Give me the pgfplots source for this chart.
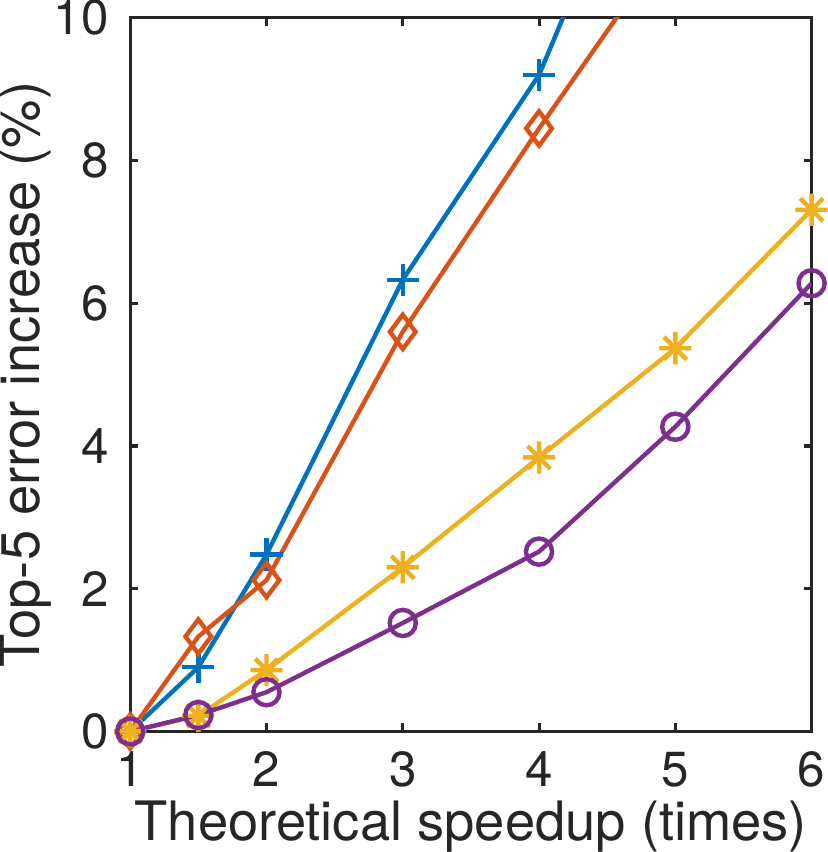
\documentclass[border=0pt]{standalone}
\usepackage{pgfplots}
\pgfplotsset{compat=1.18}
\usepackage{fontspec}
\setmainfont{TeX Gyre Heros}
\definecolor{mblue}{RGB}{0,114,189}
\definecolor{morange}{RGB}{217,83,25}
\definecolor{myellow}{RGB}{237,177,32}
\definecolor{mpurple}{RGB}{126,47,142}
\definecolor{axgray}{RGB}{38,38,38}
\pgfdeclareplotmark{mstar}{%
 \pgfpathmoveto{\pgfqpoint{-\pgfplotmarksize}{0pt}}\pgfpathlineto{\pgfqpoint{\pgfplotmarksize}{0pt}}%
 \pgfpathmoveto{\pgfqpoint{0pt}{-\pgfplotmarksize}}\pgfpathlineto{\pgfqpoint{0pt}{\pgfplotmarksize}}%
 \pgfpathmoveto{\pgfqpoint{-0.707\pgfplotmarksize}{-0.707\pgfplotmarksize}}\pgfpathlineto{\pgfqpoint{0.707\pgfplotmarksize}{0.707\pgfplotmarksize}}%
 \pgfpathmoveto{\pgfqpoint{-0.707\pgfplotmarksize}{0.707\pgfplotmarksize}}\pgfpathlineto{\pgfqpoint{0.707\pgfplotmarksize}{-0.707\pgfplotmarksize}}%
 \pgfusepathqstroke}
\begin{document}
\begin{tikzpicture}
\begin{axis}[
  scale only axis,
  width=338.5pt, height=354.5pt,
  xmin=1, xmax=6, ymin=0, ymax=10,
  xtick={1,2,3,4,5,6}, ytick={0,2,4,6,8,10},
  tick align=inside,
  major tick length=4pt,
  axis line style={axgray, line width=1.5pt},
  every tick/.style={axgray, line width=1.5pt},
  /pgf/number format/assume math mode=true,
  ticklabel style={font=\fontsize{24.5}{29}\selectfont, text=axgray, inner sep=0pt},
  xticklabel style={anchor=north, yshift=-10pt},
  yticklabel style={anchor=east, xshift=-10.5pt},
  label style={font=\fontsize{27}{32}\selectfont, text=axgray, inner sep=0pt},
  xlabel={Theoretical speedup (times)},
  ylabel={Top-5 error increase (\%)},
  xlabel style={at={(axis description cs:0.5,0)}, anchor=base, yshift=-54pt},
  ylabel style={at={(axis description cs:0,0.5)}, anchor=base, yshift=45pt},
  every axis plot/.append style={line width=2.2pt},
]
\addplot[mblue, mark=+, mark size=8pt] coordinates {
 (1,0) (1.5,0.9) (2,2.48) (3,6.33) (4,9.2) (5,13.75)};
\addplot[morange, mark=diamond, mark size=8.5pt] coordinates {
 (1,0) (1.5,1.33) (2,2.12) (3,5.6) (4,8.45) (5,11.18)};
\addplot[myellow, mark=mstar, mark size=8pt] coordinates {
 (1,0) (1.5,0.22) (2,0.86) (3,2.3) (4,3.84) (5,5.37) (6,7.31)};
\addplot[mpurple, mark=o, mark size=6.5pt] coordinates {
 (1,0) (1.5,0.23) (2,0.55) (3,1.52) (4,2.52) (5,4.27) (6,6.28)};
\end{axis}
\end{tikzpicture}
\end{document}
